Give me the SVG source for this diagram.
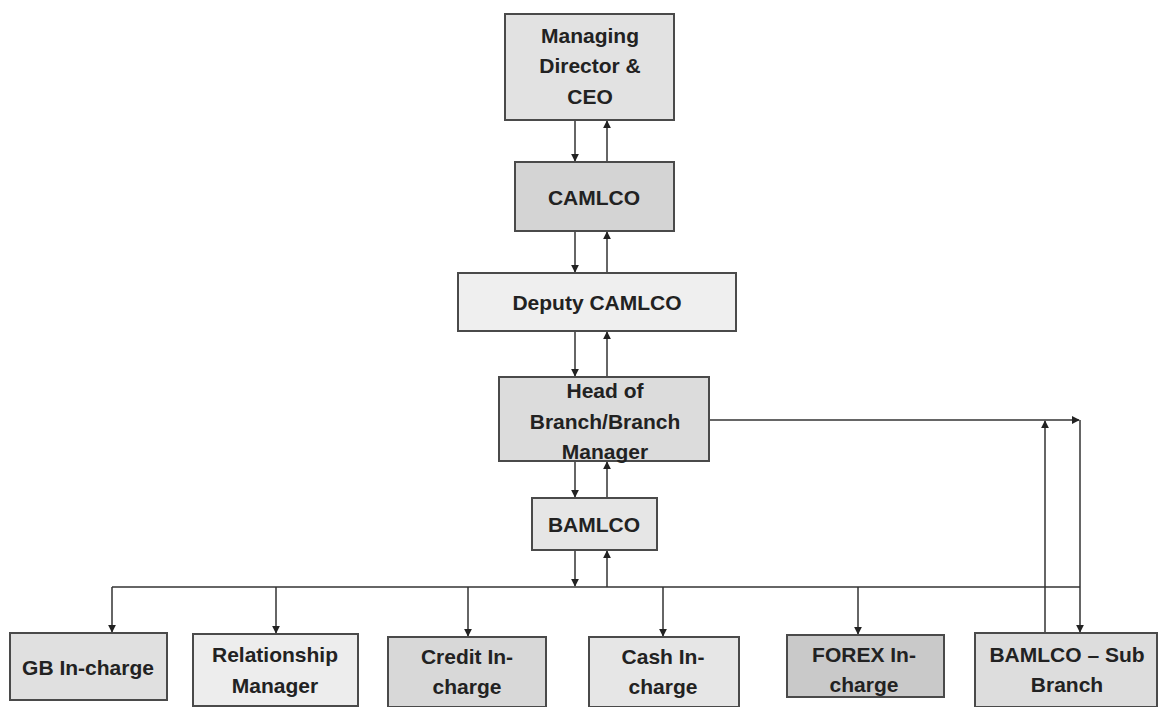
<svg xmlns="http://www.w3.org/2000/svg" width="1159" height="707" viewBox="0 0 1159 707">
  <style>
    .box { stroke: #4a4a4a; stroke-width: 2; }
    .lbl { font-family: "Liberation Sans", Arial, sans-serif; font-weight: bold; font-size: 21px; fill: #222; text-anchor: middle; }
    .wire { fill: none; stroke: #333; stroke-width: 1.5; }
    .arr { marker-end: url(#head); }
  </style>
  <defs>
    <marker id="head" viewBox="0 0 10 10" refX="9" refY="5" markerWidth="8" markerHeight="8" markerUnits="userSpaceOnUse" orient="auto">
      <path d="M0,0 L10,5 L0,10 z" fill="#222"/>
    </marker>
  </defs>
  <rect width="1159" height="707" fill="#ffffff"/>

  <!-- connectors -->
  <g id="connectors">
    <path class="wire arr" d="M575,120 V161"/>
    <path class="wire arr" d="M607,162 V121"/>
    <path class="wire arr" d="M575,231 V272"/>
    <path class="wire arr" d="M607,273 V232"/>
    <path class="wire arr" d="M575,331 V376"/>
    <path class="wire arr" d="M607,377 V332"/>
    <path class="wire arr" d="M575,461 V497"/>
    <path class="wire arr" d="M607,498 V462"/>
    <path class="wire arr" d="M575,550 V586"/>
    <path class="wire arr" d="M607,587 V551"/>
    <!-- distribution bus -->
    <path class="wire" d="M112,587 H1080"/>
    <path class="wire arr" d="M112,587 V632"/>
    <path class="wire arr" d="M276,587 V633"/>
    <path class="wire arr" d="M468,587 V636"/>
    <path class="wire arr" d="M663,587 V636"/>
    <path class="wire arr" d="M858,587 V634"/>
    <!-- branch manager to sub-branch loop -->
    <path class="wire arr" d="M709,420 H1079"/>
    <path class="wire arr" d="M1080,420 V632"/>
    <path class="wire arr" d="M1045,633 V421"/>
  </g>

  <g id="md-ceo">
    <rect class="box" x="505" y="14" width="169" height="106" fill="#e2e2e2"/>
    <text class="lbl" x="590" y="43">Managing</text>
    <text class="lbl" x="590" y="73">Director &amp;</text>
    <text class="lbl" x="590" y="104">CEO</text>
  </g>
  <g id="camlco">
    <rect class="box" x="515" y="162" width="159" height="69" fill="#d4d4d4"/>
    <text class="lbl" x="594" y="205">CAMLCO</text>
  </g>
  <g id="deputy-camlco">
    <rect class="box" x="458" y="273" width="278" height="58" fill="#efefef"/>
    <text class="lbl" x="597" y="310">Deputy CAMLCO</text>
  </g>
  <g id="branch-head">
    <rect class="box" x="499" y="377" width="210" height="84" fill="#dcdcdc"/>
    <text class="lbl" x="605" y="398">Head of</text>
    <text class="lbl" x="605" y="429">Branch/Branch</text>
    <text class="lbl" x="605" y="459">Manager</text>
  </g>
  <g id="bamlco">
    <rect class="box" x="532" y="498" width="125" height="52" fill="#e6e6e6"/>
    <text class="lbl" x="594" y="532">BAMLCO</text>
  </g>
  <g id="gb-incharge">
    <rect class="box" x="10" y="633" width="157" height="67" fill="#e0e0e0"/>
    <text class="lbl" x="88" y="675">GB In-charge</text>
  </g>
  <g id="relationship-manager">
    <rect class="box" x="193" y="634" width="165" height="72" fill="#ededed"/>
    <text class="lbl" x="275" y="662">Relationship</text>
    <text class="lbl" x="275" y="693">Manager</text>
  </g>
  <g id="credit-incharge">
    <rect class="box" x="388" y="637" width="158" height="70" fill="#d8d8d8"/>
    <text class="lbl" x="467" y="664">Credit In-</text>
    <text class="lbl" x="467" y="694">charge</text>
  </g>
  <g id="cash-incharge">
    <rect class="box" x="589" y="637" width="150" height="70" fill="#e6e6e6"/>
    <text class="lbl" x="663" y="664">Cash In-</text>
    <text class="lbl" x="663" y="694">charge</text>
  </g>
  <g id="forex-incharge">
    <rect class="box" x="787" y="635" width="157" height="62" fill="#c9c9c9"/>
    <text class="lbl" x="864" y="662">FOREX In-</text>
    <text class="lbl" x="864" y="692">charge</text>
  </g>
  <g id="bamlco-sub-branch">
    <rect class="box" x="975" y="633" width="182" height="74" fill="#dddddd"/>
    <text class="lbl" x="1067" y="662">BAMLCO – Sub</text>
    <text class="lbl" x="1067" y="692">Branch</text>
  </g>
</svg>
